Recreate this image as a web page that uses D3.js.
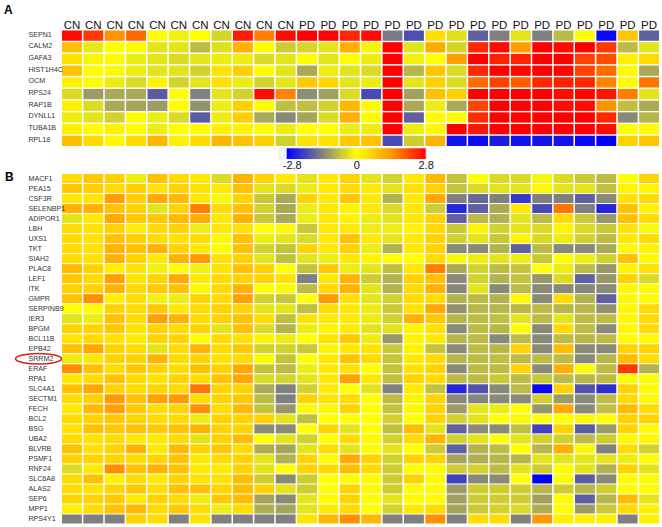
<!DOCTYPE html>
<html>
<head>
<meta charset="utf-8">
<script src="https://cdn.jsdelivr.net/npm/d3@7"></script>
<style>
  body { margin: 0; background: #fff; }
  svg { display: block; font-family: "Liberation Sans", Arial, sans-serif; }
</style>
</head>
<body>
<svg id="chart"></svg>
<script>
// Sample groups, one per column
const groups = ["CN","CN","CN","CN","CN","CN","CN","CN","CN","CN","CN",
  "PD","PD","PD","PD","PD","PD","PD","PD","PD","PD","PD","PD","PD","PD","PD","PD","PD"]

// Panel A genes and log ratios (rows x samples)
const genesA = ["SEPN1","CALM2","GAFA3","HIST1H4C","OCM","RPS24","RAP1B","DYNLL1","TUBA1B","RPL18"]
const valuesA = [
  [2.7,2.3,1.45,1.85,0.05,-0.15,0,-0.45,2.55,1.65,2.7,2.8,2.75,2.45,2.7,-1.45,-1.95,0.45,-0.35,-1.75,-1.4,-0.3,-1.4,-0.75,0,-2.7,0.8,-1.75],
  [0.85,-0.25,0,0.05,-0.3,-0.3,-0.75,-0.35,1.05,0.05,-0.55,-0.45,-0.3,1.1,-0.1,2.8,-0.3,1.15,-0.45,2.45,2.7,1.3,2.8,2.7,2.8,2.3,-0.75,-0.3],
  [0.4,-0.1,-0.05,-0.2,-0.3,-0.4,-0.3,-0.2,-0.2,-0.4,-0.3,0.05,-0.3,0,-0.2,2.8,-0.15,0,1.3,2.8,2.5,2.5,2.8,2.8,2.2,2.1,0.2,0.5],
  [0.85,0.05,-0.05,-0.2,-0.3,-0.3,-0.5,0.4,0.65,0.05,-0.3,-0.95,-0.2,-0.3,-0.4,2.8,-0.8,0.8,-0.4,2.45,2.8,2.75,2.8,2.75,2.2,1.8,0.05,-0.95],
  [0.2,0.05,-0.2,-0.4,0.15,-0.5,-0.3,0.4,-0.2,-0.5,-0.3,0.75,0.55,-0.3,-0.2,2.8,-0.3,0.65,-0.4,1.8,2.2,1.95,2.45,2.5,2.45,1.6,0.05,1.75],
  [-0.4,-1.1,-0.95,-0.95,-1.8,0,-1.4,-0.3,-0.5,2.7,1.6,-1.25,-1.05,-0.4,-2.0,2.8,-1.05,0.85,0.65,2.8,2.8,2.8,2.8,2.7,2.75,2.6,1.65,-0.3],
  [0.2,-0.4,-0.95,-1.0,-1.1,0.05,-1.2,-0.2,0.65,0.05,-0.7,-0.7,-0.5,1.0,0.05,2.8,-0.95,-0.2,-0.95,2.2,2.8,2.8,2.8,2.7,2.7,1.45,-0.7,-0.95],
  [-0.2,-0.3,-0.5,0.05,-0.2,-0.4,-1.8,-0.2,0.65,-0.95,-1.3,-1.0,-0.4,1.1,0.05,2.8,-1.75,0.05,0.05,2.4,2.8,2.75,2.8,2.8,2.8,2.45,-1.3,-0.8],
  [0.2,0.05,0.2,0.05,-0.2,0,0.05,0.2,0.15,0.05,-0.2,0,0,-0.2,-0.2,2.8,-0.2,0.1,2.8,2.6,2.8,2.8,2.8,2.8,2.8,2.7,0,0.05],
  [0.9,0.5,0.1,0.5,1.0,0.2,0.5,1.0,0.85,0.65,-0.5,0.4,0.4,0.75,0.85,-2.0,-0.55,1.05,-2.6,-2.7,-2.5,-2.6,-2.6,-2.6,-2.7,-2.8,0.6,0.8]
]

// Panel B genes and log ratios
const genesB = ["MACF1","PEA15","CSF3R","SELENBP1","ADIPOR1","LBH","UXS1","TKT","SIAH2","PLAC8","LEF1","ITK",
  "GMPR","SERPINB9","IER3","BPGM","BCL11B","EPB42","SRRM2","ERAF","RPA1","SLC4A1","SECTM1","FECH","BCL2","BSG",
  "UBA2","BLVRB","PSMF1","RNF24","SLC6A8","ALAS2","SEP6","MPP1","RPS4Y1"]
const valuesB = [
  [0.5,0.75,0.65,-0.2,0.85,0.5,0.3,-0.4, 1.05,0.6,0.3,-0.3,0.3,0.6,-0.3,-0.5,0.3,0.95, -0.65,0,-0.4,-0.4,-0.1,-0.4,-0.6,-0.75,0,0.6],
  [0.75,0.65,0.5,0.65,0.4,0.6,0.4,0.3, 0.85,-0.3,-0.4,-0.2,0.3,0.5,0.3,-0.3,0.4,0.6, -0.65,-0.4,-0.3,-0.3,0.1,-0.3,-0.3,-0.7,0.15,0.15],
  [0.3,0.35,1.3,0.65,1.2,0.95,0.3,-0.05, 0.6,-0.6,-0.95,0.6,0.3,0.75,0.3,-0.85,0.3,1.2, -1.4,-1.65,-1.4,-2.2,-1.4,-1.4,-1.75,-1.3,0.4,0.5],
  [1.05,1.05,0.85,0.6,-0.3,0.6,1.65,0.5, 0.85,-0.5,-0.95,-0.2,0.3,0.15,0.3,-0.4,0.3,-0.55, -2.4,-1.75,-0.95,0.3,-2.0,1.75,-1.4,-2.4,0.85,0.15],
  [-0.3,0.3,1.2,0.75,0.75,0.95,1.15,0.3, 1.05,-0.6,-0.95,-0.2,0.3,0.15,-0.2,-0.3,0.3,0.6, -1.75,-0.75,-0.85,-0.3,-0.75,0.5,-0.6,-1.15,0.85,0.5],
  [0.5,0.4,0.6,0.25,0.5,0.6,-0.2,0.3, 0.4,0,0.1,-0.6,0.3,0.3,-0.2,-0.2,0.15,0.5, -0.6,0.15,-0.5,-0.3,-0.4,0.15,-0.4,-0.6,0.4,-0.05],
  [0.5,0.4,0.85,0.65,0.5,0.4,0.5,0.1, 0.85,-0.2,-0.3,-0.4,0.3,0.85,0.3,-0.3,0.3,0.6, -0.5,-0.3,-0.6,0.15,-0.4,-0.2,-0.5,-0.75,0.3,0.5],
  [0.5,0.4,1.05,0.85,1.05,0.6,0.3,0, 0.85,-0.5,-0.65,0.6,0.3,0.6,-0.2,-0.85,0.3,0.6, -1.3,-1.3,-0.85,-1.75,-0.75,-1.3,-1.3,-0.95,-0.05,0.15],
  [0.5,0.4,1.05,0.6,0.3,1.05,1.4,0.4, 0.6,-0.3,-0.7,-0.3,-0.2,0.3,0.15,0,0,0.5, -0.05,-0.2,-0.3,-0.2,-0.6,0,-0.2,-0.5,0.85,-0.05],
  [0.95,0.6,0.2,0.4,-0.15,0,-0.15,0.4, 0.85,0.6,0,-0.65,0.75,-0.2,-0.3,-0.7,0.3,1.65, -0.95,-0.5,-0.75,-0.65,0,-0.2,-0.75,-1.15,0.15,0.4],
  [0.75,0.5,1.3,0.4,0.6,1.2,0.3,0.5, 0.6,0.6,0.4,-1.4,0.3,1.05,-0.55,-0.85,0.6,0.85, -1.3,-0.5,-0.85,-0.65,-1.15,-0.4,-1.75,-1.15,0.6,-0.4],
  [0.6,0.6,1.05,0.5,0.75,0.85,-0.05,0.5, 1.05,0,-0.05,-0.75,0.5,1.05,-0.3,-0.85,0.5,1.05, -1.3,-0.3,-1.3,-0.75,-1.3,-1.3,-1.3,-1.3,0.1,0.05],
  [0.85,1.5,0.2,0.5,-0.15,-0.2,0.6,0.5, 1.3,-0.5,-0.6,0,1.4,0.4,-0.3,-0.5,0.5,0.5, -0.85,-0.75,-0.85,0.05,-1.3,0.5,-0.85,-1.75,0.1,0.05],
  [0,0.05,0.6,0.5,0.75,0.3,0.5,0.6, 0.6,-0.3,-0.3,-0.7,0.5,0.3,-0.2,-0.6,0.4,1.2, -1.2,-0.8,-0.8,-0.8,-0.75,-0.8,-0.8,-1.2,0.1,0.5],
  [-0.3,-0.2,0.85,0.5,1.3,1.05,0.5,0.6, 0.85,0.5,-0.7,0.4,0.3,0.3,-0.2,-0.5,1.05,0.75, -0.8,-0.75,-0.7,-0.3,-0.75,-0.3,-0.75,-0.75,0.1,0.5],
  [0.6,0.6,0.75,0.4,0.6,0.5,0.6,-0.3, 0.85,-0.4,-0.85,-0.2,0.15,0.3,-0.3,-0.3,0.15,0.4, -1.3,-0.75,-0.8,0.05,-1.3,0.5,-0.75,-1.3,0.1,0.5],
  [0.4,0.5,0.4,0.3,0.6,0.6,0,0.5, 0.4,0.15,-0.2,0,0.4,0.75,-0.2,-1.15,0.15,0.3, -0.8,-0.75,-1.3,-0.75,-1.3,-0.75,-0.8,-0.75,0.05,0.05],
  [0.85,1.2,0.6,0.5,-0.3,0.5,1.05,0.5, 0.75,-0.5,-0.5,-0.6,0.15,0.3,0.4,-0.6,0.15,-0.65, -1.3,-0.75,-0.8,0.6,-1.3,0.9,-1.3,-1.3,0.6,0.6],
  [-0.2,0.3,0.6,0.6,1.05,0.5,0.6,0.4, 0.5,-0.05,-0.65,0,0.3,0.85,0.5,-0.65,0.3,0.5, -0.8,-0.75,-0.7,-0.75,-0.75,-0.75,-1.3,-0.8,0.9,0.5],
  [1.5,0.85,0.5,0.75,0.6,0.5,0.85,0.6, 1.2,-0.65,-0.75,-0.2,0.3,0.4,0,-0.65,0.4,0.6, -1.3,-0.75,-0.75,0.6,-1.3,1.1,0.05,-0.75,2.3,-0.85],
  [0.3,0.5,0.85,0.5,0.4,0.6,0.5,0.85, 1.2,-0.4,-0.5,-0.3,0.3,1.3,0.3,-0.7,0.6,0.5, -0.75,-0.75,-0.6,-0.75,-0.6,-0.75,-0.8,-0.75,0.05,0.05],
  [0.85,1.2,0.6,0.5,0.6,0.5,1.75,0.55, 0.6,-0.95,-1.4,-0.5,0.3,0,-0.3,-1.4,0.3,-0.65, -2.4,-1.9,-1.3,-0.75,-2.7,0.6,-1.9,-2.3,0.6,0.05],
  [0.5,0.65,1.4,0.85,1.3,1.4,0.5,0.6, 0.75,-0.75,-1.4,0.6,0.4,0.5,0,-0.75,0.15,0.6, -1.3,-1.35,-1.3,-1.3,-0.5,-1.1,-1.3,-0.75,0.5,0.1],
  [0.3,0.95,1.3,0.75,0.5,0.6,1.5,0.5, 0.95,-0.65,-1.15,-0.05,-0.05,0.6,0,-0.65,-0.05,0.6, -1.1,-0.3,-0.2,0,-1.15,1.2,-1.3,-0.7,0.95,0.5],
  [0.5,0.6,0.75,0.6,0.5,0.5,-0.2,0.6, 0.6,0.6,-0.3,-0.7,0,0,0,-0.5,0,0.6, -0.5,-0.3,0,-0.05,0,0,-0.05,0,0.6,0.6],
  [0.4,0.85,0.75,0.85,0.75,0.85,1.05,0.6, 0.6,-1.3,-1.3,0,0.6,-0.3,0,-0.7,0.9,-0.3, -1.75,-1.3,-1.3,-0.7,-2.1,0.6,-1.8,-1.1,0.6,0.05],
  [0.5,0.4,0.5,0.3,0.3,0.5,-0.3,0.6, 0.9,0,-0.3,-0.5,0,0.5,0.1,-0.5,0.5,1.0, -0.5,-0.3,0,-0.3,-0.5,-0.5,-0.75,-0.55,0.1,0.1],
  [0.85,0.4,0.6,1.05,0.3,0.95,0.6,0.75, 0.5,-0.9,-1.0,-0.3,0.5,-0.3,0.05,-0.3,0,-0.55, -1.75,-0.85,-0.75,0,-0.8,1.1,-0.05,-1.4,0.5,-0.5],
  [0.6,0.6,0.6,0.5,0.6,0.85,0.3,0.5, 0.6,-0.3,-0.85,0.6,0.05,1.2,0.6,-0.5,0.6,0.6, -1.0,-0.9,-0.8,-0.8,-0.3,-0.3,-0.3,-0.3,-0.2,0.05],
  [-0.4,0.3,1.5,0.85,1.05,0.85,0.3,0.3, 0.6,-0.3,0,0.6,0.5,0.9,0.5,-0.55,0.05,0.05, -0.55,-0.5,-0.75,-0.3,-0.55,0.05,-0.3,-0.85,0.6,-0.3],
  [0.5,0.85,0.2,0.5,0.3,0.6,0.4,0.4, 0.9,-0.55,-1.3,-0.55,0,0.05,0.05,-0.55,0.6,0.05, -2.1,-1.3,-1.3,0,-2.8,0.05,-1.8,-1.3,0.05,0.05],
  [0.5,0.4,0.6,0.75,0.5,0.85,0.85,0.6, 0.9,0.6,-0.3,-0.55,0,0.6,0.05,-0.55,0.05,0.05, -1.1,-0.55,-0.55,-0.55,-0.8,-0.55,-0.8,-0.55,0.05,0.05],
  [0.6,0.6,0.75,0.3,0.6,0.5,-0.2,0.75, 0.9,-1.0,-1.3,-0.3,0.05,0.6,0.05,-0.3,0.05,0.05, -1.05,-0.55,-0.55,-0.55,-1.05,0.05,-1.75,-0.8,0.9,-0.3],
  [0.2,0.5,0.85,0.95,0.5,0.75,0.5,-0.2, 0.5,-0.9,-1.0,-0.3,0.3,0.5,0,-0.5,0.3,0.5, -1.0,-0.6,-0.5,-0.4,-0.9,0,-1.1,-0.6,0.5,0.2],
  [-1.4,-1.4,-1.4,0.6,0.5,-1.4,0.4,-1.4, -1.4,-1.4,-1.4,0.4,1.0,1.5,1.0,-1.4,-1.4,1.5, -1.4,0.5,0.5,-1.4,1.4,0.2,0.2,0.2,-1.4,0.2]
]

// Colour key
const legendStops = [-2.8, -1.4, 0, 1.4, 2.8]
const legendColors = ["#0000ff", "#808080", "#ffff00", "#ff9900", "#ff0000"]
const legendTicks = [-2.8, 0, 2.8]
const circledGene = "SRRM2"

const width = 662
const height = 527

const svg = d3.select("#chart")
  .attr("width", width)
  .attr("height", height)

const color = d3.scaleLinear()
  .domain(legendStops)
  .range(legendColors)
  .clamp(true)

// Shared horizontal scale (one band per sample)
const x = d3.scaleBand()
  .domain(d3.range(groups.length))
  .range([62, 659])
  .paddingInner(0.07)

const yA = d3.scaleBand()
  .domain(genesA)
  .range([30.5, 146])
  .paddingInner(0.12)

const yB = d3.scaleBand()
  .domain(genesB)
  .range([174, 523.5])
  .paddingInner(0.1)

// Draws one heatmap block
const heatmap = (genes, values, y, labelDy) => {
  const g = svg.append("g")

  g.selectAll("g")
    .data(values)
    .join("g")
    .attr("transform", (d, i) => `translate(0, ${y(genes[i])})`)
    .selectAll("rect")
    .data(d => d)
    .join("rect")
    .attr("x", (d, j) => x(j))
    .attr("width", x.bandwidth())
    .attr("height", y.bandwidth())
    .attr("fill", d => color(d))

  g.selectAll("text")
    .data(genes)
    .join("text")
    .attr("x", 28.5)
    .attr("y", d => y(d) + y.bandwidth() / 2 + labelDy)
    .attr("dominant-baseline", "middle")
    .attr("font-size", 7.1)
    .attr("fill", "#333")
    .text(d => d)
}

heatmap(genesA, valuesA, yA, -1)
heatmap(genesB, valuesB, yB, 0.5)

// Column headers
svg.append("g")
  .selectAll("text")
  .data(groups)
  .join("text")
  .attr("x", (d, i) => x(i) + x.bandwidth() / 2)
  .attr("y", 29)
  .attr("text-anchor", "middle")
  .attr("font-size", 11.5)
  .attr("fill", "#111")
  .text(d => d)

// Panel letters
svg.append("text")
  .attr("x", 4).attr("y", 14)
  .attr("font-size", 12).attr("font-weight", "bold")
  .text("A")
svg.append("text")
  .attr("x", 5).attr("y", 181)
  .attr("font-size", 12).attr("font-weight", "bold")
  .text("B")

// Colour legend
const lx = d3.scaleLinear().domain([-2.8, 2.8]).range([286.7, 425.7])
const grad = svg.append("defs").append("linearGradient")
  .attr("id", "key")
grad.selectAll("stop")
  .data(legendStops)
  .join("stop")
  .attr("offset", d => (lx(d) - lx(-2.8)) / (lx(2.8) - lx(-2.8)))
  .attr("stop-color", d => color(d))

svg.append("rect")
  .attr("x", 278).attr("y", 147)
  .attr("width", 149).attr("height", 13)
  .attr("fill", "#f1f1f1")
svg.append("rect")
  .attr("x", lx(-2.8)).attr("y", 148.3)
  .attr("width", lx(2.8) - lx(-2.8)).attr("height", 10.7)
  .attr("fill", "url(#key)")

svg.append("g")
  .attr("transform", "translate(0, 159)")
  .call(d3.axisBottom(lx).tickValues(legendTicks).tickSize(0).tickPadding(2)
    .tickFormat(d => d === 0 ? "0" : d3.format(".1f")(d).replace("−", "-")))
  .call(g => g.select(".domain").remove())
  .call(g => g.selectAll(".tick text")
    .attr("font-size", 11)
    .attr("font-family", "Liberation Sans, Arial, sans-serif")
    .attr("fill", "#111"))
  .call(g => g.select(".tick:first-of-type text").attr("dx", 5))

// Red ring round the highlighted gene
svg.append("ellipse")
  .attr("cx", 38.5)
  .attr("cy", yB(circledGene) + yB.bandwidth() / 2)
  .attr("rx", 23)
  .attr("ry", 5.3)
  .attr("fill", "none")
  .attr("stroke", "#d42020")
  .attr("stroke-width", 1.6)
</script>
</body>
</html>
